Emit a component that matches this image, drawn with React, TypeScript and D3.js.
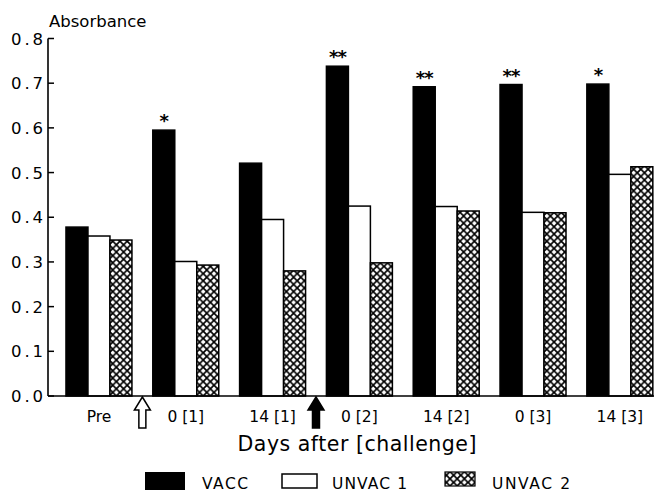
import React from "react";
import * as d3 from "d3";

const categories = ["Pre", "0 [1]", "14 [1]", "0 [2]", "14 [2]", "0 [3]", "14 [3]"];
const seriesNames = ["VACC", "UNVAC 1", "UNVAC 2"];
const vacc = [0.378, 0.595, 0.521, 0.738, 0.692, 0.697, 0.698];
const unvac1 = [0.358, 0.301, 0.395, 0.425, 0.424, 0.411, 0.496];
const unvac2 = [0.349, 0.293, 0.28, 0.298, 0.414, 0.41, 0.513];
const significance = ["", "*", "", "**", "**", "**", "*"];
const yTicks = [0, 0.1, 0.2, 0.3, 0.4, 0.5, 0.6, 0.7, 0.8];
const yTitle = "Absorbance";
const xTitle = "Days after [challenge]";

const W = 654;
const H = 493;
const FONT = "'DejaVu Sans', 'Liberation Sans', sans-serif";

export default function App() {
  const axisX = 48;
  const y = d3.scaleLinear().domain([0, 0.8]).range([396, 38.5]);
  const x = d3
    .scaleBand<string>()
    .domain(categories)
    .range([axisX, 670.8])
    .paddingInner(0.24)
    .paddingOuter(0.207);
  const bw = x.bandwidth();
  const xs = d3.scaleBand<string>().domain(seriesNames).range([0, bw]).padding(0);
  const values = [vacc, unvac1, unvac2];
  const fills = ["#000", "#fff", "url(#xhatch)"];

  const gapCenter = (i: number) => ((x(categories[i]) as number) + bw + (x(categories[i + 1]) as number)) / 2;
  const a1 = gapCenter(0);
  const a2 = gapCenter(2);
  const base = y(0);
  const arrowPath = (cx: number) =>
    `M${cx},${base + 1} L${cx + 8},${base + 14} L${cx + 3.5},${base + 14} L${cx + 3.5},${base + 32} L${cx - 3.5},${base + 32} L${cx - 3.5},${base + 14} L${cx - 8},${base + 14} Z`;

  return (
    <svg
      width={W}
      height={H}
      style={{ position: "absolute", left: 0, top: 0, background: "#fff" }}
      fontFamily={FONT}
    >
      <defs>
        <pattern id="xhatch" patternUnits="userSpaceOnUse" width={7.2} height={7.2}>
          <rect width={7.2} height={7.2} fill="#fff" />
          <path d="M0,0 L7.2,7.2 M7.2,0 L0,7.2" stroke="#000" strokeWidth={1.7} />
        </pattern>
      </defs>

      {/* bars */}
      {categories.map((c, i) => (
        <g key={c} transform={`translate(${x(c)},0)`}>
          {seriesNames.map((s, j) => (
            <rect
              key={s}
              x={xs(s)}
              y={y(values[j][i])}
              width={xs.bandwidth()}
              height={base - y(values[j][i])}
              fill={fills[j]}
              stroke="#000"
              strokeWidth={1.5}
            />
          ))}
          {significance[i] && (
            <text
              x={(xs("VACC") as number) + xs.bandwidth() / 2}
              y={y(vacc[i]) - 3}
              textAnchor="middle"
              fontSize={18}
              fontWeight="bold"
              letterSpacing={-1}
            >
              {significance[i]}
            </text>
          )}
        </g>
      ))}

      {/* axes */}
      <line x1={axisX} x2={axisX} y1={y(0.8)} y2={base} stroke="#000" strokeWidth={1.6} />
      <line x1={axisX} x2={W} y1={base} y2={base} stroke="#000" strokeWidth={1.6} />
      {yTicks.map((t) => (
        <g key={t}>
          <line x1={axisX} x2={axisX + 6} y1={y(t)} y2={y(t)} stroke="#000" strokeWidth={1.5} />
          <text x={43} y={y(t) + 6} textAnchor="end" fontSize={16.5} textLength={32}>
            {t.toFixed(1)}
          </text>
        </g>
      ))}
      <text x={49} y={26.5} fontSize={16.5}>
        {yTitle}
      </text>

      {/* x labels */}
      {categories.map((c) => (
        <text
          key={c}
          x={(x(c) as number) + bw / 2}
          y={422}
          textAnchor="middle"
          fontSize={15.5}
        >
          {c}
        </text>
      ))}
      <text x={357} y={451} textAnchor="middle" fontSize={20.5} textLength={239}>
        {xTitle}
      </text>

      {/* arrows */}
      <path d={arrowPath(a1)} fill="#fff" stroke="#000" strokeWidth={1.5} />
      <path d={arrowPath(a2)} fill="#000" stroke="#000" strokeWidth={1.5} />

      {/* legend */}
      <rect x={145} y={472} width={40} height={18} fill="#000" />
      <text x={202} y={489} fontSize={15.5} textLength={46}>
        {seriesNames[0]}
      </text>
      <rect x={282} y={474} width={35} height={14} fill="#fff" stroke="#000" strokeWidth={1.5} />
      <text x={332} y={489} fontSize={15.5} textLength={75}>
        {seriesNames[1]}
      </text>
      <rect x={445} y={472} width={30} height={14} fill="url(#xhatch)" stroke="#000" strokeWidth={1.2} />
      <text x={492} y={489} fontSize={15.5} textLength={78}>
        {seriesNames[2]}
      </text>
    </svg>
  );
}
